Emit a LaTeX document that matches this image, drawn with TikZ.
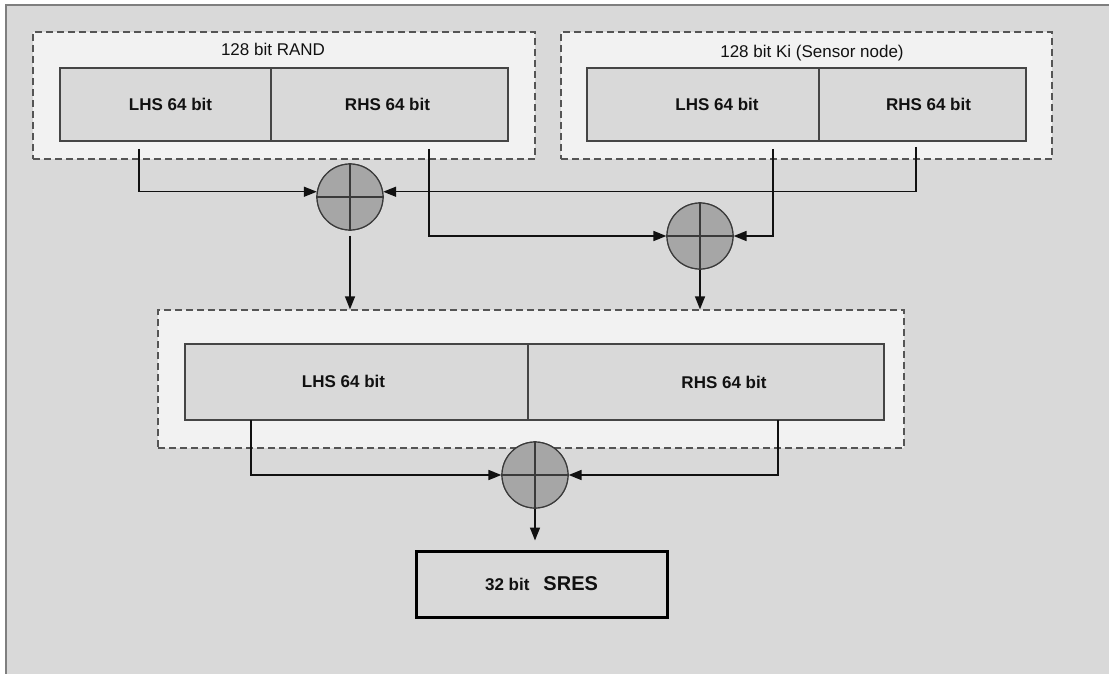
\documentclass[tikz,border=0pt]{standalone}
\usepackage{fontspec}
\setmainfont{Liberation Sans}
\usetikzlibrary{arrows.meta,calc}
\definecolor{bgc}{HTML}{D9D9D9}
\definecolor{boxc}{HTML}{F2F2F2}
\definecolor{cellc}{HTML}{D9D9D9}
\definecolor{cellline}{HTML}{454545}
\definecolor{xorc}{HTML}{A6A6A6}
\definecolor{xorline}{HTML}{3A3A3A}
\definecolor{framec}{HTML}{7F7F7F}
\definecolor{dashc}{HTML}{555555}
\definecolor{inkc}{HTML}{111111}
\tikzset{
  grp/.style={rectangle, draw=dashc, fill=boxc, line width=1.3pt, dash pattern=on 7pt off 4pt, inner sep=0pt},
  cell/.style={rectangle, draw=cellline, fill=cellc, line width=1.3pt, inner sep=0pt},
  xor/.style={circle, draw=xorline, fill=xorc, line width=1.2pt, minimum size=66pt, inner sep=0pt},
  conn/.style={line width=1.5pt, draw=inkc},
  arr/.style={conn, -{Triangle[length=13pt,width=10pt]}},
  bitlabel/.style={font=\bfseries\fontsize{17}{20}\selectfont, text=inkc, inner sep=0pt},
  grplabel/.style={font=\fontsize{17}{20}\selectfont, text=inkc, inner sep=0pt},
  quad/.style={line width=1.2pt, draw=xorline}
}
\begin{document}
\begin{tikzpicture}[x=1pt,y=-1pt]
\useasboundingbox (0,0) rectangle (1109,674);
\clip (0,0) rectangle (1109,674);
\fill[white] (0,0) rectangle (1109,674);
\draw[framec, line width=2pt, fill=bgc] (6,5) rectangle (1125,690);

% groups
\node[grp, minimum width=502pt, minimum height=127pt] (rand) at (284,95.5) {};
\node[grp, minimum width=491pt, minimum height=127pt] (ki) at (806.5,95.5) {};
\node[grp, minimum width=746pt, minimum height=138pt] (low) at (531,379) {};

\node[grplabel] (randlbl) at (273,49) {128 bit RAND};
\node[grplabel] (kilbl) at (812,53) {128 bit Ki (Sensor node)};

% cells
\node[cell, minimum width=211pt, minimum height=73pt, label={[bitlabel, xshift=5pt]center:LHS 64 bit}] (rlhs) at (165.5,104.5) {};
\node[cell, minimum width=237pt, minimum height=73pt, label={[bitlabel, xshift=-2pt]center:RHS 64 bit}] (rrhs) at (389.5,104.5) {};
\node[cell, minimum width=232pt, minimum height=73pt, label={[bitlabel, xshift=14pt]center:LHS 64 bit}] (klhs) at (703,104.5) {};
\node[cell, minimum width=207pt, minimum height=73pt, label={[bitlabel, xshift=6pt]center:RHS 64 bit}] (krhs) at (922.5,104.5) {};
\node[cell, minimum width=343pt, minimum height=76pt, label={[bitlabel, xshift=-13pt, yshift=1pt]center:LHS 64 bit}] (llhs) at (356.5,382) {};
\node[cell, minimum width=356pt, minimum height=76pt, label={[bitlabel, xshift=18pt]center:RHS 64 bit}] (lrhs) at (706,382) {};

% result
\node[rectangle, draw=black, line width=3pt, minimum width=251pt, minimum height=66pt, inner sep=0pt, text=inkc] (sres) at (541.5,584)
  {\bfseries\fontsize{17}{20}\selectfont 32 bit\hspace{14pt}\fontsize{20}{24}\selectfont SRES};

% XOR nodes
\node[xor] (c1) at (350,197) {};
\node[xor] (c2) at (700,236) {};
\node[xor] (c3) at (535,475) {};

% free ends of connectors
\coordinate (r1) at (139,149);
\coordinate (r2) at (429,149);
\coordinate (k1) at (773,149);
\coordinate (k2) at (916,147);
\coordinate (l1) at (251,420);
\coordinate (l2) at (778,420);

% connectors
\draw[arr] (r1) |- (c1.171);
\draw[arr] (k2) |- (c1.9);
\draw[arr] (r2) |- (c2.west);
\draw[arr] (k1) |- (c2.east);
\draw[arr, shorten <=5pt] (c1.south) -- (c1.south |- low.north);
\draw[arr] (c2.south) -- (c2.south |- low.north);
\draw[arr] (l1) |- (c3.west);
\draw[arr] (l2) |- (c3.east);
\draw[arr, shorten >=9pt] (c3.south) -- (c3.south |- sres.north);

% redraw circles on top
\foreach \c in {c1,c2,c3}{
  \node[xor] at (\c) {};
  \draw[quad] (\c.north) -- (\c.south) (\c.west) -- (\c.east);
}
\end{tikzpicture}
\end{document}
